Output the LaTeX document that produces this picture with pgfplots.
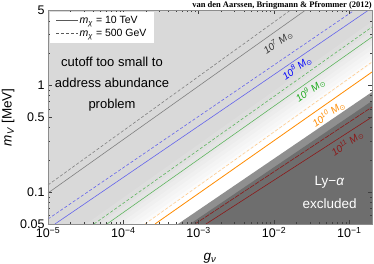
\documentclass[border=0pt]{standalone}
\usepackage{fontspec}
\setmainfont{Liberation Sans}
\newfontfamily\timesf{Liberation Serif}
\newfontfamily\dejavu{DejaVu Sans}
\usepackage{pgfplots}
\pgfplotsset{compat=1.18}
\definecolor{midgray}{gray}{0.56}
\definecolor{darkgray2}{gray}{0.43}
\definecolor{lgray}{gray}{0.50}
\definecolor{lblue}{RGB}{100,100,235}
\definecolor{lgreen}{RGB}{95,180,95}
\definecolor{lorange}{RGB}{255,140,0}
\definecolor{dred}{RGB}{140,25,25}
\definecolor{tgreen}{RGB}{30,170,30}
\begin{document}
\begin{tikzpicture}
\path[use as bounding box] (-48pt,-40pt) rectangle (326pt,224pt);
\begin{axis}[
  at={(0,0)}, anchor=south west,
  scale only axis, width=324pt, height=213.5pt,
  xmode=log, ymode=log,
  xmin=1e-5, xmax=0.2, ymin=0.05, ymax=5,
  axis background/.style={fill=black!15},
  axis on top,
  xtick={1e-5,1e-4,1e-3,1e-2,1e-1},
  xticklabels={10\textsuperscript{−5},10\textsuperscript{−4},10\textsuperscript{−3},10\textsuperscript{−2},10\textsuperscript{−1}},
  minor xtick={2e-5,3e-5,4e-5,5e-5,6e-5,7e-5,8e-5,9e-5,2e-4,3e-4,4e-4,5e-4,6e-4,7e-4,8e-4,9e-4,2e-3,3e-3,4e-3,5e-3,6e-3,7e-3,8e-3,9e-3,2e-2,3e-2,4e-2,5e-2,6e-2,7e-2,8e-2,9e-2},
  ytick={0.05,0.1,0.5,1,5},
  yticklabels={0.05,0.1,0.5,1,5},
  minor ytick={0.06,0.07,0.08,0.09,0.2,0.3,0.4,0.6,0.7,0.8,0.9,2,3,4},
  tick align=inside,
  major tick length=4pt, minor tick length=2pt,
  every tick/.style={black!75, line width=0.4pt},
  axis line style={black!45, line width=0.5pt},
  ticklabel style={font=\fontsize{12.5}{14}\selectfont},
  xlabel={\textit{g}\textsubscript{\textit{ν}}},
  ylabel={\textit{m}\textsubscript{\textit{V}} [MeV]},
  label style={font=\fontsize{13.5}{15}\selectfont},
  xlabel style={at={(axis description cs:0.5,0)}, anchor=base, yshift=-36pt},
  ylabel style={at={(axis description cs:-0.123,0.5)}, anchor=center},
  legend style={at={(rel axis cs:0.006,0.993)}, anchor=north west, draw=none, fill=white,
    inner xsep=6pt, inner ysep=2.5pt, row sep=0pt,
    font=\fontsize{10.5}{12}\selectfont,
    nodes={inner sep=1pt, text height=8pt, text depth=3pt, anchor=base west},
    /tikz/every even column/.append style={column sep=15pt}},
  legend cell align=left,
  legend image code/.code={\draw[#1] (0pt,3pt) -- (22pt,3pt);},
]
% gradient towards white
\addplot[fill=black!13.5, draw=none, forget plot] coordinates {(1e-6,0.008831) (1,8.831) (1,1e-4) (1e-6,1e-4)} -- cycle;
\addplot[fill=black!12, draw=none, forget plot] coordinates {(1e-6,0.007980) (1,7.980) (1,1e-4) (1e-6,1e-4)} -- cycle;
\addplot[fill=black!10.5, draw=none, forget plot] coordinates {(1e-6,0.007211) (1,7.211) (1,1e-4) (1e-6,1e-4)} -- cycle;
\addplot[fill=black!9, draw=none, forget plot] coordinates {(1e-6,0.006516) (1,6.516) (1,1e-4) (1e-6,1e-4)} -- cycle;
\addplot[fill=black!7.5, draw=none, forget plot] coordinates {(1e-6,0.005888) (1,5.888) (1,1e-4) (1e-6,1e-4)} -- cycle;
\addplot[fill=black!6, draw=none, forget plot] coordinates {(1e-6,0.005321) (1,5.321) (1,1e-4) (1e-6,1e-4)} -- cycle;
\addplot[fill=black!4.5, draw=none, forget plot] coordinates {(1e-6,0.004808) (1,4.808) (1,1e-4) (1e-6,1e-4)} -- cycle;
\addplot[fill=black!3, draw=none, forget plot] coordinates {(1e-6,0.004345) (1,4.345) (1,1e-4) (1e-6,1e-4)} -- cycle;
\addplot[fill=black!1.5, draw=none, forget plot] coordinates {(1e-6,0.003926) (1,3.926) (1,1e-4) (1e-6,1e-4)} -- cycle;
\addplot[fill=white, draw=none, forget plot] coordinates {(1e-6,0.003548) (1,3.548) (1,1e-4) (1e-6,1e-4)} -- cycle;
% Ly-alpha excluded (500 GeV edge, then 10 TeV edge)
\addplot[fill=midgray, draw=none, forget plot] coordinates {(5.316e-4,0.05) (0.2,0.8618) (0.2,0.05)} -- cycle;
\addplot[fill=darkgray2, draw=none, forget plot] coordinates {(7.674e-4,0.05) (0.2,0.7097) (0.2,0.05)} -- cycle;
% mass lines: solid = 10 TeV, dashed = 500 GeV
\addplot[lgray, line width=0.6pt, forget plot] coordinates {(1e-5,0.09759) (0.02581,5)};
\addplot[lgray, line width=0.6pt, dash pattern=on 3pt off 2pt, forget plot] coordinates {(1e-5,0.1160) (0.01632,5)};
\addplot[lblue, line width=0.6pt, forget plot] coordinates {(1.238e-5,0.05) (0.177,5)};
\addplot[lblue, line width=0.6pt, dash pattern=on 3pt off 2pt, forget plot] coordinates {(1e-5,0.05568) (0.1153,5)};
\addplot[lgreen, line width=0.6pt, forget plot] coordinates {(6.069e-5,0.05) (0.2,2.824)};
\addplot[lgreen, line width=0.6pt, dash pattern=on 3pt off 2pt, forget plot] coordinates {(4.079e-5,0.05) (0.2,3.503)};
\addplot[lorange, line width=0.8pt, forget plot] coordinates {(2.633e-4,0.05) (0.2,1.327)};
\addplot[lorange!45!white, line width=0.6pt, dash pattern=on 3pt off 2pt, forget plot] coordinates {(1.940e-4,0.05) (0.2,1.646)};
\addplot[dred, line width=0.6pt, forget plot] coordinates {(1.2516e-3,0.05) (0.2,0.5027)};
\addplot[dred, line width=0.6pt, dash pattern=on 5pt off 1pt, forget plot] coordinates {(8.94e-4,0.05) (0.2,0.6237)};
% legend
\addlegendimage{black!65, line width=0.6pt}
\addlegendentry{\textit{m}\textsubscript{\textit{χ}} = 10 TeV}
\addlegendimage{black!65, line width=0.6pt, dash pattern=on 3pt off 2pt}
\addlegendentry{\textit{m}\textsubscript{\textit{χ}} = 500 GeV\hspace{5pt}}
% labels
\node[rotate=35.3, text=black!80, font=\fontsize{10}{12}\selectfont] at (axis cs:0.0113,2.50) {\textit{10\textsuperscript{7} M}\textsubscript{\dejavu ⊙}};
\node[rotate=35.3, text=blue, font=\fontsize{10}{12}\selectfont] at (axis cs:0.0202,1.446) {\textit{10\textsuperscript{8} M}\textsubscript{\dejavu ⊙}};
\node[rotate=35.3, text=tgreen, font=\fontsize{10}{12}\selectfont] at (axis cs:0.0304,0.895) {\textit{10\textsuperscript{9} M}\textsubscript{\dejavu ⊙}};
\node[rotate=35.3, text=lorange, font=\fontsize{10}{12}\selectfont] at (axis cs:0.0530,0.535) {\textit{10\textsuperscript{10} M}\textsubscript{\dejavu ⊙}};
\node[rotate=35.3, text=dred, font=\fontsize{10}{12}\selectfont] at (axis cs:0.0942,0.285) {\textit{10\textsuperscript{11} M}\textsubscript{\dejavu ⊙}};
\node[align=center, font=\fontsize{13}{21}\selectfont] at (rel axis cs:0.1975,0.656) {cutoff too small to\\address abundance\\problem};
\node[align=center, text=white, font=\fontsize{13.5}{23}\selectfont] at (rel axis cs:0.869,0.15) {Ly−\textit{α}\\excluded};
\end{axis}
\node[anchor=base east, inner sep=0pt, font=\timesf\bfseries\fontsize{8.5}{10}\selectfont] at (324pt,216pt) {van den Aarssen, Bringmann \& Pfrommer (2012)};
\end{tikzpicture}
\end{document}
